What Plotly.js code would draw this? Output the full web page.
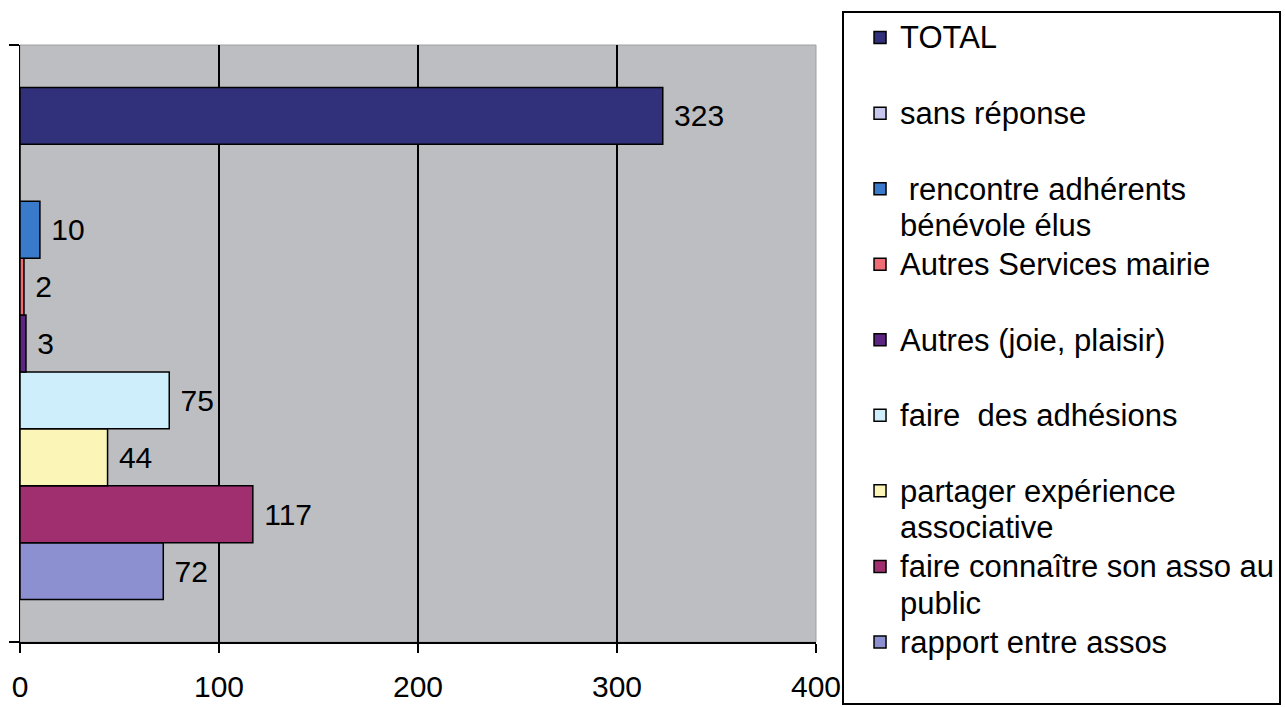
<!DOCTYPE html>
<html><head><meta charset="utf-8">
<script src="https://cdn.plot.ly/plotly-3.0.1.min.js"></script>
<style>html,body{margin:0;padding:0;background:#fff;}#chart{width:1285px;height:707px;}</style>
</head><body><div id="chart"></div>
<script>
// Data (bottom to top of the bar group)
const category = ['Motivations'];
const seriesNames = [
  'rapport entre assos',
  'faire connaître son asso au<br>public',
  'partager expérience<br>associative',
  'faire  des adhésions',
  'Autres (joie, plaisir)',
  'Autres Services mairie',
  ' rencontre adhérents<br>bénévole élus',
  'sans réponse',
  'TOTAL'
];
const seriesValues = [72, 117, 44, 75, 3, 2, 10, 0, 323];
const xTickValues = [0, 100, 200, 300, 400];

// Styles
const seriesColors = ['#8c8fd0','#a02f70','#fbf5b8','#cdeefa','#5c2483','#f06c74','#3a7acb','#c8c8ee','#31307a'];
const FONT = 'Liberation Sans, Arial, sans-serif';

// every legend entry takes two lines so the entries are evenly spaced
function legendLabel(n){
  const lines = n.split('<br>');
  if (lines.length < 2) lines.push('&nbsp;');
  return lines.map(l => '<span style="font-size:31px">' + l + '</span>').join('<br>');
}

const traces = seriesNames.map((n, i) => ({
  type: 'bar', orientation: 'h',
  name: legendLabel(n),
  y: category,
  x: [seriesValues[i]],
  text: [seriesValues[i] ? ' ' + seriesValues[i] : ''],
  textposition: 'outside', cliponaxis: false, constraintext: 'none',
  textfont: {family: FONT, size: 30, color: '#000'},
  marker: {color: seriesColors[i], line: {color: '#000', width: 1.5}},
  hoverinfo: 'skip'
}));

const layout = {
  width: 1285, height: 707,
  barmode: 'group', bargap: 0.142, bargroupgap: 0,
  plot_bgcolor: '#bcbec1', paper_bgcolor: '#ffffff',
  margin: {l: 20, r: 469, t: 45, b: 65, autoexpand: false},
  font: {family: FONT, color: '#000'},
  xaxis: {
    range: [0, 400], tickvals: xTickValues, showgrid: true, gridcolor: '#000', gridwidth: 1.5,
    zeroline: false, showline: true, linecolor: '#000', linewidth: 1.5,
    ticks: 'outside', ticklen: 9, tickwidth: 1.5, tickcolor: '#000',
    tickfont: {family: FONT, size: 30, color: '#000'}, ticklabelstandoff: 8, fixedrange: true
  },
  yaxis: {
    type: 'category', range: [-0.5, 0.5], showticklabels: false, showgrid: false, zeroline: false,
    showline: true, linecolor: '#000', linewidth: 1.5,
    ticks: 'outside', tickson: 'boundaries', ticklen: 10, tickwidth: 1.5, tickcolor: '#000', fixedrange: true
  },
  showlegend: true,
  legend: {
    x: 1.0327, xanchor: 'left', y: 1.057, yanchor: 'top', maxheight: 707,
    traceorder: 'reversed', bgcolor: '#ffffff', bordercolor: '#000', borderwidth: 2,
    font: {family: FONT, size: 27.9, color: '#000'}, valign: 'top', indentation: 16, tracegroupgap: 0
  },
  shapes: [{type: 'rect', xref: 'paper', yref: 'paper', x0: 0, x1: 1, y0: 0, y1: 1,
            line: {color: '#a0a0a0', width: 1}, layer: 'below'}]
};

Plotly.newPlot('chart', traces, layout, {displayModeBar: false, staticPlot: true});
</script>
</body></html>
